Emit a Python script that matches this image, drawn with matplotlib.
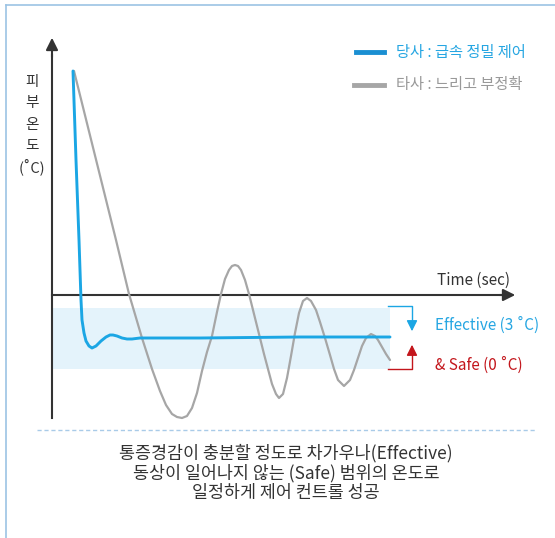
import numpy as np
import matplotlib.pyplot as plt
from matplotlib.lines import Line2D

plt.rcParams['font.family'] = ['Noto Sans CJK KR', 'DejaVu Sans']
plt.rcParams['font.weight'] = 500

# time (sec, arbitrary units) and relative skin temperature
blue_t = [2.1, 2.4, 2.7, 2.9, 3.0, 3.2, 3.4, 3.7, 4.0, 4.4, 4.9, 5.4, 5.8, 6.1, 6.5, 7.0, 7.5, 8.0, 8.8,
          14.8, 24.8, 33.8]
blue_T = [22.4, 13.5, 5.5, -0.5, -2.5, -3.8, -4.6, -5.1, -5.3, -5.1, -4.6, -4.2, -4.0, -4.0, -4.1, -4.3,
          -4.4, -4.4, -4.3, -4.3, -4.2, -4.2]

gray_t = [2.2, 6.4, 7.7, 9.0, 10.0, 10.8, 11.4, 12.0, 12.5, 13.0, 13.5, 14.0, 14.5, 15.0, 15.5, 16.0,
          16.5, 16.9, 17.3, 17.7, 18.0, 18.3, 18.6, 18.9, 19.3, 19.7, 20.0, 20.4, 20.8, 21.2, 21.6, 22.0,
          22.4, 22.7, 23.1, 23.5, 23.9, 24.3, 24.7, 25.1, 25.5, 25.9, 26.4, 26.8, 27.3, 27.8, 28.2, 28.6,
          29.2, 29.8, 30.2, 30.6, 31.0, 31.4, 31.9, 32.3, 32.6, 33.0, 33.4, 33.8]
gray_T = [22.4, 5.5, 0.1, -4.3, -7.4, -9.6, -11.0, -11.9, -12.2, -12.3, -12.1, -11.3, -9.8, -7.6, -5.7,
          -4.1, -1.7, 0.1, 1.6, 2.5, 2.9, 3.0, 2.9, 2.5, 1.5, 0.1, -1.1, -2.7, -4.3, -5.9, -7.4, -8.9,
          -9.9, -10.3, -9.9, -8.3, -6.1, -3.8, -1.8, -0.6, -0.3, -0.6, -1.5, -2.7, -4.3, -6.0, -7.4, -8.5,
          -9.1, -8.5, -7.5, -6.3, -5.1, -4.3, -3.9, -4.1, -4.5, -5.2, -5.9, -6.5]

band_t = [0, 33.8]
band_top = -1.3
band_bottom = -7.4

legend_labels = ['당사 : 급속 정밀 제어', '타사 : 느리고 부정확']
ylabel_chars = ['피', '부', '온', '도', '(˚C)']
caption = ['통증경감이 충분할 정도로 차가우나(Effective)',
           '동상이 일어나지 않는 (Safe) 범위의 온도로',
           '일정하게 제어 컨트롤 성공']

BLUE = '#1ba6e4'
GRAY = '#a6a6a6'
RED = '#c3161c'
DARK = '#333333'

fig = plt.figure(figsize=(5.55, 5.38), dpi=100)
ax = fig.add_axes([0, 0, 1, 1])
ax.set_xlim(-5.2, 50.3)
ax.set_ylim(-24.3, 29.5)
ax.axis('off')

# frame lines
fig.add_artist(Line2D([6 / 555, 6 / 555], [0, 1 - 5 / 538], color='#9cc3e4', lw=1.2))
fig.add_artist(Line2D([6 / 555, 1], [1 - 5 / 538, 1 - 5 / 538], color='#9cc3e4', lw=1.2))

# effective & safe band
ax.fill_between(band_t, band_bottom, band_top, color='#e4f3fb', lw=0, zorder=1)

# axes with arrows
ax.plot([0, 0], [-12.3, 24], color=DARK, lw=1.5, zorder=3)
ax.annotate('', xy=(0, 26.0), xytext=(0, 23.5),
            arrowprops=dict(arrowstyle='-|>', color=DARK, lw=1.5, mutation_scale=18))
ax.plot([0, 45], [0, 0], color=DARK, lw=1.5, zorder=3)
ax.annotate('', xy=(46.6, 0), xytext=(44.5, 0),
            arrowprops=dict(arrowstyle='-|>', color=DARK, lw=1.5, mutation_scale=18))

ax.plot(gray_t, gray_T, color=GRAY, lw=1.6, zorder=4, solid_joinstyle='round', solid_capstyle='round')
ax.plot(blue_t, blue_T, color=BLUE, lw=2.1, zorder=5, solid_joinstyle='round', solid_capstyle='round')

# legend
ax.plot([30.4, 33.2], [24.3, 24.3], color='#1a8fd2', lw=3.5)
ax.plot([30.2, 33.2], [21.0, 21.0], color=GRAY, lw=3.5)
ax.text(34.4, 24.3, legend_labels[0], color='#26a6e2', fontsize=11, va='center', ha='left')
ax.text(34.4, 21.0, legend_labels[1], color='#999999', fontsize=11, va='center', ha='left')

# y label
for i, ch in enumerate(ylabel_chars):
    ax.text(-2.0, 21.3 - 2.13 * i, ch, color=DARK, fontsize=10.5, ha='center', va='center')

ax.text(45.8, 1.5, 'Time (sec)', color=DARK, fontsize=11, ha='right', va='center')

# effective / safe brackets
ax.plot([33.6, 36.0, 36.0], [-1.1, -1.1, -3.0], color=BLUE, lw=1.0)
ax.annotate('', xy=(36.0, -3.9), xytext=(36.0, -2.6),
            arrowprops=dict(arrowstyle='-|>', color=BLUE, lw=1.0, mutation_scale=16))
ax.plot([33.6, 36.0, 36.0], [-7.4, -7.4, -5.5], color=RED, lw=1.0)
ax.annotate('', xy=(36.0, -4.7), xytext=(36.0, -6.0),
            arrowprops=dict(arrowstyle='-|>', color=RED, lw=1.0, mutation_scale=16))
ax.text(38.3, -3.0, 'Effective (3 ˚C)', color='#26a6e2', fontsize=11, va='center', ha='left')
ax.text(38.3, -7.0, '& Safe (0 ˚C)', color=RED, fontsize=11, va='center', ha='left')

# dashed separator
ax.plot([-1.5, 48.4], [-13.5, -13.5], color='#a9cbe8', lw=1.0, ls=(0, (3, 2)))

for i, line in enumerate(caption):
    ax.text(23.4, -15.8 - 2.0 * i, line, color=DARK, fontsize=12.5, ha='center', va='center')

fig.savefig('out.png', dpi=100, facecolor='white')
